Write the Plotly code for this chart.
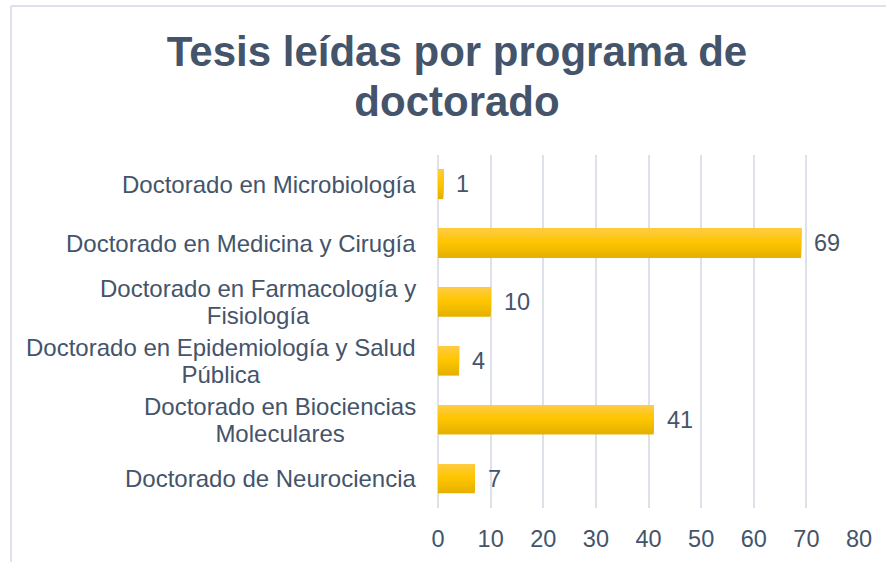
import plotly.graph_objects as go

categories = [
    "Doctorado en Microbiología",
    "Doctorado en Medicina y Cirugía",
    "Doctorado en Farmacología y<br>Fisiología",
    "Doctorado en Epidemiología y Salud<br>Pública",
    "Doctorado en Biociencias<br>Moleculares",
    "Doctorado de Neurociencia",
]
values = [1, 69, 10, 4, 41, 7]
x_ticks = [0, 10, 20, 30, 40, 50, 60, 70, 80]
title_lines = ["Tesis leídas por programa de", "doctorado"]

FONT = "Liberation Sans, Arial, sans-serif"
TEXT = "#44546A"
GRID = "#DDE2EA"

# vertical gradient stops (top -> bottom)
stops = [(0.0, (255, 203, 70)), (0.45, (255, 198, 0)), (1.0, (228, 176, 0))]


def grad(t):
    for (t0, c0), (t1, c1) in zip(stops[:-1], stops[1:]):
        if t <= t1:
            f = (t - t0) / (t1 - t0)
            return "rgb(%d,%d,%d)" % tuple(round(a + (b - a) * f) for a, b in zip(c0, c1))
    return "rgb(%d,%d,%d)" % stops[-1][1]


fig = go.Figure()
N = 14
total = 0.5
for k in range(N):
    w = total * (N - k) / N
    t = (N - k - 0.5) / N
    fig.add_trace(go.Bar(
        x=values, y=categories, orientation="h",
        width=w, offset=-total / 2,
        marker=dict(color=grad(t), line=dict(width=0)),
        hoverinfo="skip" if k < N - 1 else None,
        showlegend=False,
    ))

annotations = []
for c, v in zip(categories, values):
    lines = c.split("<br>")
    txt = "<br>".join('<span style="font-size:24px">%s</span>' % l for l in lines)
    annotations.append(dict(
        x=0, xref="paper", y=c, yref="y", xanchor="right", yanchor="middle",
        xshift=-20, text=txt, showarrow=False, align="center",
        font=dict(family=FONT, size=20.8, color=TEXT),
    ))
    annotations.append(dict(
        x=v, xref="x", y=c, yref="y", xanchor="left", yanchor="middle",
        xshift=11, text=str(v), showarrow=False,
        font=dict(family=FONT, size=23.5, color=TEXT),
    ))

title_txt = "<br>".join('<span style="font-size:42px"><b>%s</b></span>' % l for l in title_lines)

fig.update_layout(
    width=886, height=562,
    barmode="overlay",
    paper_bgcolor="white", plot_bgcolor="white",
    margin=dict(l=438, r=27, t=155, b=54, autoexpand=False),
    title=dict(
        text=title_txt,
        x=457 / 886, xanchor="center", xref="container",
        y=0.882, yanchor="top", yref="container",
        font=dict(family=FONT, size=38.5, color=TEXT),
    ),
    xaxis=dict(
        range=[0, 80], tickvals=x_ticks, ticktext=[str(t) for t in x_ticks],
        showgrid=True, gridcolor=GRID, gridwidth=2,
        zeroline=True, zerolinecolor=GRID, zerolinewidth=2,
        showline=False, ticks="", ticklabelstandoff=14, automargin=False,
        tickfont=dict(family=FONT, size=23.5, color=TEXT),
        fixedrange=True,
    ),
    yaxis=dict(
        autorange="reversed", showticklabels=False, showgrid=False,
        zeroline=False, showline=False, ticks="", fixedrange=True,
        automargin=False,
    ),
    annotations=annotations,
    shapes=[
        dict(type="line", xref="paper", yref="paper",
             x0=(11 - 438) / 421, x1=2, y0=(508 - 6) / 353, y1=(508 - 6) / 353,
             line=dict(color=GRID, width=2)),
        dict(type="line", xref="paper", yref="paper",
             x0=(11 - 438) / 421, x1=(11 - 438) / 421, y0=-1, y1=(508 - 6) / 353,
             line=dict(color=GRID, width=2)),
    ],
)

fig.write_html("out.html", config={"displayModeBar": False},
               post_script="document.body.style.margin='0';")
